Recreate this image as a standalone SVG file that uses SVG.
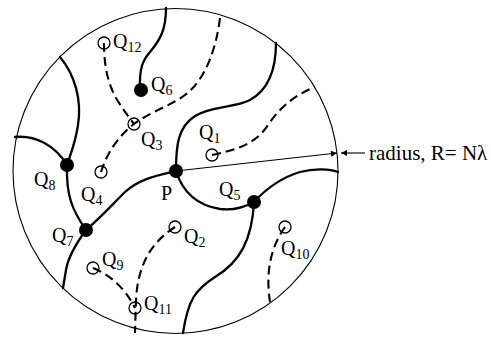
<svg xmlns="http://www.w3.org/2000/svg" width="491" height="337" viewBox="0 0 491 337">
<style>
.sol{fill:none;stroke:#000;stroke-width:2.3;stroke-linecap:round}
.dash{fill:none;stroke:#000;stroke-width:2.1;stroke-dasharray:9,5}
.thin{fill:none;stroke:#000;stroke-width:1.1}
.open{fill:none;stroke:#000;stroke-width:1.3}
.dot{fill:#000}
text{font-family:"Liberation Serif","Times New Roman",serif;font-size:20px;fill:#000}
.sub{font-size:14px}
.lbl{font-size:21px}
</style>
<defs>
<marker id="ah" viewBox="0 0 10 10" refX="10" refY="5" markerWidth="7" markerHeight="6" orient="auto" markerUnits="userSpaceOnUse">
<path d="M0,0 L10,5 L0,10 Z" fill="#000"/>
</marker>
</defs>
<rect width="491" height="337" fill="#fff"/>
<circle id="boundary" cx="175.5" cy="171" r="162.5" class="thin" stroke-width="1.3"/>
<g id="connectors">
<path class="sol" d="M166,8 C166,30 160,40 150,52 C143,60 139,68 140,90"/>
<path class="sol" d="M276,43 C276,70 268,90 250,100 C235,108 210,106 195,116 C178,127 176,145 176,171"/>
<path class="sol" d="M176,171 C160,175 140,178 125,192 C110,207 100,218 86,230"/>
<path class="sol" d="M86,230 C75,245 68,258 66,270 L63,288"/>
<path class="sol" d="M86,230 C72,210 66,195 67,165"/>
<path class="sol" d="M60,57 C75,75 82,100 78,125 C75,145 70,155 67,165"/>
<path class="sol" d="M15,137 C35,135 55,145 67,165"/>
<path class="sol" d="M176,171 C182,190 195,205 220,209 C235,211 245,207 254,202"/>
<path class="sol" d="M254,202 C265,190 280,178 300,172 C315,168 330,169 338,172"/>
<path class="sol" d="M254,202 C252,240 240,262 215,277 C195,290 188,300 183,333"/>
<path class="dash" d="M104,43 C104,60 106,80 116,98 C122,108 128,116 134,124"/>
<path class="dash" d="M220,18 C216,50 205,80 185,95 C170,106 150,112 134,124 C120,135 108,150 101,172"/>
<path class="dash" d="M212,155 C235,150 255,145 268,125 C280,107 295,95 315,87"/>
<path class="dash" d="M175,227 C155,240 138,260 136,300 L135,333"/>
<path class="dash" d="M93,268 C110,275 125,288 135,308"/>
<path class="dash" d="M285,227 C272,245 265,270 270,302"/>
<line class="thin" x1="176" y1="171" x2="337" y2="153" marker-end="url(#ah)"/>
<line class="thin" x1="365" y1="153" x2="341" y2="153" marker-end="url(#ah)"/>
</g>
<g id="P"><circle class="dot" cx="176" cy="171" r="7"/><text x="161" y="200">P</text></g>
<g id="Q1"><circle class="open" cx="212" cy="155" r="6"/><text x="199" y="139">Q<tspan class="sub" dy="4">1</tspan></text></g>
<g id="Q2"><circle class="open" cx="175" cy="227" r="6"/><text x="184" y="243">Q<tspan class="sub" dy="4">2</tspan></text></g>
<g id="Q3"><circle class="open" cx="134" cy="124" r="6"/><text x="141" y="146">Q<tspan class="sub" dy="4">3</tspan></text></g>
<g id="Q4"><circle class="open" cx="101" cy="172" r="6"/><text x="81" y="201">Q<tspan class="sub" dy="4">4</tspan></text></g>
<g id="Q5"><circle class="dot" cx="254" cy="202" r="7"/><text x="219" y="196">Q<tspan class="sub" dy="4">5</tspan></text></g>
<g id="Q6"><circle class="dot" cx="141" cy="90" r="7"/><text x="151" y="91">Q<tspan class="sub" dy="4">6</tspan></text></g>
<g id="Q7"><circle class="dot" cx="86" cy="230" r="7"/><text x="52" y="242">Q<tspan class="sub" dy="4">7</tspan></text></g>
<g id="Q8"><circle class="dot" cx="67" cy="165" r="7"/><text x="34" y="186">Q<tspan class="sub" dy="4">8</tspan></text></g>
<g id="Q9"><circle class="open" cx="93" cy="268" r="6"/><text x="102" y="266">Q<tspan class="sub" dy="4">9</tspan></text></g>
<g id="Q10"><circle class="open" cx="285" cy="227" r="6"/><text x="281" y="255">Q<tspan class="sub" dy="4">10</tspan></text></g>
<g id="Q11"><circle class="open" cx="135" cy="308" r="6"/><text x="144" y="310">Q<tspan class="sub" dy="4">11</tspan></text></g>
<g id="Q12"><circle class="open" cx="104" cy="43" r="6"/><text x="113" y="48">Q<tspan class="sub" dy="4">12</tspan></text></g>
<g id="radius-label"><text class="lbl" x="369" y="160">radius, R= Nλ</text></g>
</svg>
